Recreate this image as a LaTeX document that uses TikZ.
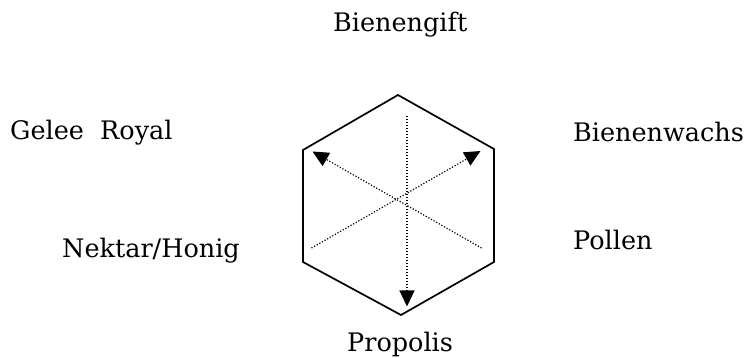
\documentclass[tikz,border=0pt]{standalone}
\usepackage{fontspec}
\setmainfont{DejaVu Serif}
\usetikzlibrary{arrows.meta}
\begin{document}
\begin{tikzpicture}[x=1pt,y=-1pt,
  lbl/.style={anchor=base west,inner sep=0pt,font=\fontsize{25.5}{30}\selectfont},
  hexline/.style={line width=1.7pt,line join=miter},
  dotline/.style={line width=1.2pt,dash pattern=on 1.2pt off 1.8pt},
  dotarrow/.style={dotline,-{Triangle[length=16pt,width=15pt]}}]
\useasboundingbox (0,0) rectangle (745,358);
% hexagon vertices
\coordinate (ht) at (398,95);
\coordinate (hur) at (494,149);
\coordinate (hlr) at (494,262);
\coordinate (hb) at (401,315);
\coordinate (hll) at (303,262);
\coordinate (hul) at (303,150);
\draw[hexline] (ht) -- (hur) -- (hlr) -- (hb) -- (hll) -- (hul) -- cycle;
% arrow endpoints
\coordinate (vs) at (407,116);
\coordinate (ve) at (407,306.5);
\coordinate (d1s) at (481.5,248);
\coordinate (d1e) at (312.5,151.5);
\coordinate (d2s) at (311.5,248);
\coordinate (d2e) at (480.5,151);
\draw[dotarrow] (vs) -- (ve);
\draw[dotarrow] (d1s) -- (d1e);
\draw[dotarrow] (d2s) -- (d2e);
% labels
\node[lbl] (gift) at (333,32) {Bienengift};
\node[lbl] (gelee) at (10,140) {Gelee\ \ Royal};
\node[lbl] (wachs) at (573,142) {Bienenwachs};
\node[lbl] (nektar) at (62,258) {Nektar/Honig};
\node[lbl] (pollen) at (573,250) {Pollen};
\node[lbl] (propolis) at (347,352) {Propolis};
\end{tikzpicture}
\end{document}
